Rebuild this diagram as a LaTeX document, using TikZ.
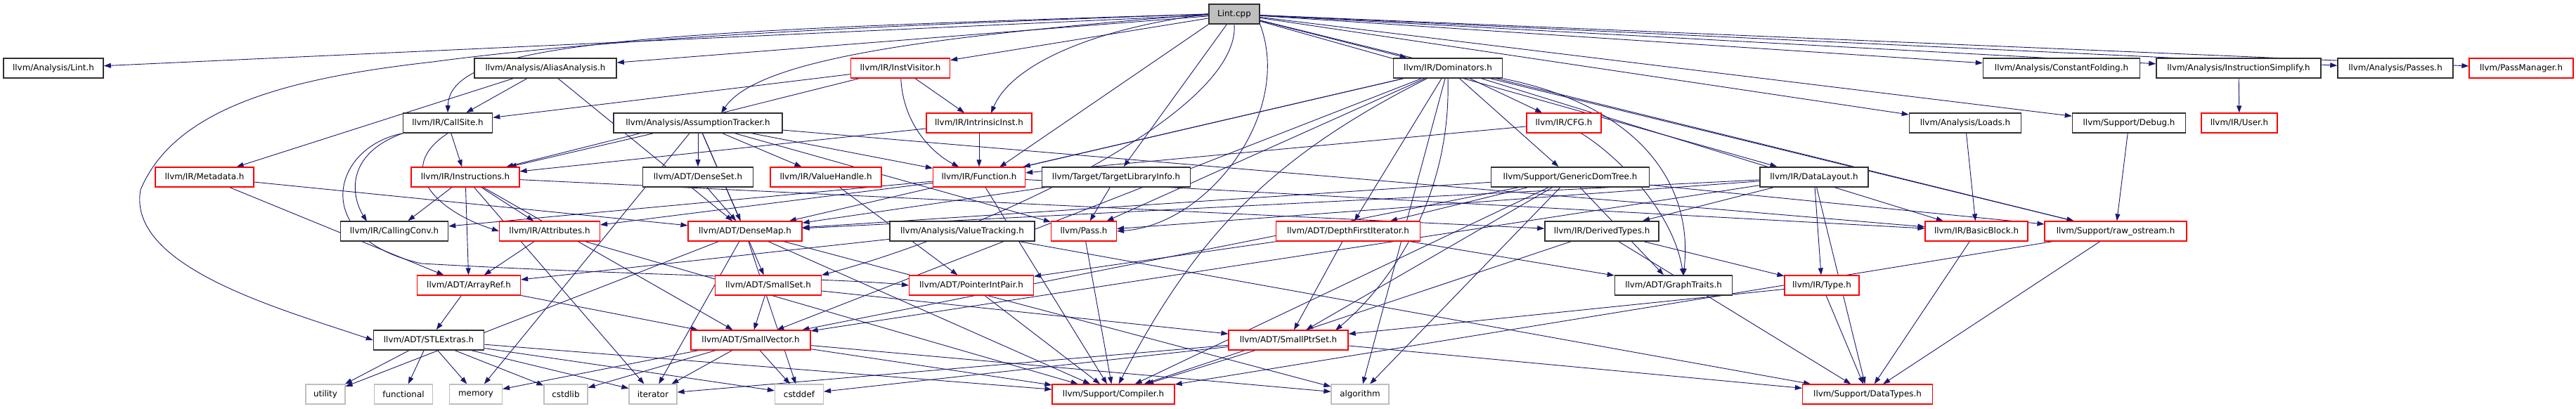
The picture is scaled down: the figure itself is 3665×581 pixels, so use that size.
\documentclass[tikz,border=0pt]{standalone}
\usepackage{fontspec}
\setmainfont{DejaVu Sans}
\usetikzlibrary{arrows.meta,backgrounds}
\definecolor{edgec}{HTML}{191970}
\definecolor{rootfill}{HTML}{BFBFBF}
\definecolor{sysc}{HTML}{BFBFBF}
\definecolor{hdrc}{HTML}{303030}
\tikzset{
 box/.style={rectangle, minimum height=28pt, inner sep=0pt, font=\fontsize{11.9}{14}\selectfont, fill=white},
 hb/.style={box, draw=hdrc, line width=1.6pt},
 rb/.style={box, draw=red, line width=1.2pt},
 sb/.style={box, draw=sysc, line width=1.2pt},
 rootb/.style={box, draw=hdrc, line width=1.6pt, fill=rootfill},
 e/.style={draw=edgec, line width=0.9pt, -{Triangle[length=10pt,width=7pt]}},
}
\begin{document}
\begin{tikzpicture}[x=1pt,y=-1pt]
\useasboundingbox (0,0) rectangle (3665,581);
% row 0
\node[rootb, minimum width=72pt] (root) at (1756,20) {Lint.cpp};
% row 1
\node[hb, minimum width=142pt] (LintH) at (76,97) {llvm/Analysis/Lint.h};
\node[hb, minimum width=202pt] (AA) at (776,97) {llvm/Analysis/AliasAnalysis.h};
\node[rb, minimum width=141pt] (IV) at (1281,97) {llvm/IR/InstVisitor.h};
\node[hb, minimum width=155pt] (Dom) at (2060,97) {llvm/IR/Dominators.h};
\node[hb, minimum width=223pt] (CF) at (2933,97) {llvm/Analysis/ConstantFolding.h};
\node[hb, minimum width=234pt] (IS) at (3185,97) {llvm/Analysis/InstructionSimplify.h};
\node[hb, minimum width=164pt] (Passes) at (3408,97) {llvm/Analysis/Passes.h};
\node[rb, minimum width=148pt] (PM) at (3587,97) {llvm/PassManager.h};
% row 2
\node[hb, minimum width=127pt] (CS) at (637,175) {llvm/IR/CallSite.h};
\node[hb, minimum width=240pt] (AT) at (993,175) {llvm/Analysis/AssumptionTracker.h};
\node[rb, minimum width=150pt] (II) at (1393,175) {llvm/IR/IntrinsicInst.h};
\node[rb, minimum width=106pt] (CFG) at (2225,175) {llvm/IR/CFG.h};
\node[hb, minimum width=159pt] (Loads) at (2796,175) {llvm/Analysis/Loads.h};
\node[hb, minimum width=161pt] (Debug) at (3029,175) {llvm/Support/Debug.h};
\node[rb, minimum width=108pt] (User) at (3186,175) {llvm/IR/User.h};
% row 3
\node[rb, minimum width=140pt] (MD) at (291,252) {llvm/IR/Metadata.h};
\node[rb, minimum width=154pt] (Ins) at (662,252) {llvm/IR/Instructions.h};
\node[hb, minimum width=157pt] (DS) at (993,252) {llvm/ADT/DenseSet.h};
\node[rb, minimum width=158pt] (VH) at (1175,252) {llvm/IR/ValueHandle.h};
\node[rb, minimum width=131pt] (Fn) at (1393,252) {llvm/IR/Function.h};
\node[hb, minimum width=211pt] (TLI) at (1588,252) {llvm/Target/TargetLibraryInfo.h};
\node[hb, minimum width=225pt] (GDT) at (2234,252) {llvm/Support/GenericDomTree.h};
\node[hb, minimum width=154pt] (DL) at (2581,252) {llvm/IR/DataLayout.h};
% row 4
\node[hb, minimum width=153pt] (CC) at (561,329) {llvm/IR/CallingConv.h};
\node[rb, minimum width=143pt] (Attr) at (782,329) {llvm/IR/Attributes.h};
\node[rb, minimum width=162pt] (DM) at (1060,329) {llvm/ADT/DenseMap.h};
\node[hb, minimum width=206pt] (VT) at (1369,329) {llvm/Analysis/ValueTracking.h};
\node[rb, minimum width=93pt] (Pass) at (1542,329) {llvm/Pass.h};
\node[rb, minimum width=205pt] (DFI) at (1918,329) {llvm/ADT/DepthFirstIterator.h};
\node[hb, minimum width=162pt] (DT) at (2279,329) {llvm/IR/DerivedTypes.h};
\node[rb, minimum width=146pt] (BB) at (2812,329) {llvm/IR/BasicBlock.h};
\node[rb, minimum width=202pt] (ROS) at (3010,329) {llvm/Support/raw\_ostream.h};
% row 5
\node[rb, minimum width=147pt] (AR) at (667,406) {llvm/ADT/ArrayRef.h};
\node[rb, minimum width=151pt] (SS) at (1093,406) {llvm/ADT/SmallSet.h};
\node[rb, minimum width=177pt] (PIP) at (1382,406) {llvm/ADT/PointerIntPair.h};
\node[hb, minimum width=167pt] (GT) at (2381,406) {llvm/ADT/GraphTraits.h};
\node[rb, minimum width=106pt] (Ty) at (2592,406) {llvm/IR/Type.h};
% row 6
\node[hb, minimum width=157pt] (STL) at (610,484) {llvm/ADT/STLExtras.h};
\node[rb, minimum width=170pt] (SV) at (1068,484) {llvm/ADT/SmallVector.h};
\node[rb, minimum width=170pt] (SPS) at (1833,484) {llvm/ADT/SmallPtrSet.h};
% row 7
\node[sb, minimum width=56pt] (util) at (463,561) {utility};
\node[sb, minimum width=83pt] (func) at (574,561) {functional};
\node[sb, minimum width=75pt] (mem) at (677,561) {memory};
\node[sb, minimum width=62pt] (cstdlib) at (805,561) {cstdlib};
\node[sb, minimum width=68pt] (iter) at (929,561) {iterator};
\node[sb, minimum width=69pt] (cstddef) at (1137,561) {cstddef};
\node[rb, minimum width=174pt] (Comp) at (1584,561) {llvm/Support/Compiler.h};
\node[sb, minimum width=82pt] (alg) at (1935,561) {algorithm};
\node[rb, minimum width=185pt] (DTy) at (2657,561) {llvm/Support/DataTypes.h};

\coordinate (fnin) at (1422,238);
\coordinate (iiin) at (1410,161);
\coordinate (atin) at (1026,161);
\coordinate (ccin) at (522,315);
\coordinate (gtin) at (2395,392);
\coordinate (spsin) at (1900,470);

\begin{scope}[on background layer]
% Lint.cpp
\draw[e] (root) -- (LintH);
\draw[e] (root) -- (AA);
\draw[e] (root.west) .. controls (900,45) and (640,60) .. (CS.north);
\draw[e] (root.west) .. controls (1300,35) and (900,50) .. (616,88) .. controls (420,110) and (250,150) .. (200,270) .. controls (180,380) and (400,440) .. (STL.west);
\draw[e] (root.south) .. controls (1765,160) and (1400,330) .. (SS.north east);
\draw[e] (root.west) .. controls (1350,50) and (1080,80) .. (atin);
\draw[e] (root) -- (CF);
\draw[e] (root) -- (IS);
\draw[e] (root) -- (Loads);
\draw[e] (root) -- (Passes);
\draw[e] (root) -- (DL);
\draw[e] (root) -- (Dom);
\draw[e] (root.south west) -- (fnin);
\draw[e] (root) -- (IV);
\draw[e] (root.west) .. controls (1560,40) and (1440,90) .. (iiin);
\draw[e] (root) -- (PM);
\draw[e] (root.south east) .. controls (1840,160) and (1720,320) .. (Pass.east);
\draw[e] (root) -- (Debug);
\draw[e] (root) -- (ROS);
\draw[e] (root) -- (TLI);
% AliasAnalysis
\draw[e] (AA) -- (CS);
\draw[e] (AA) -- (MD);
\draw[e] (AA) -- (DM);
% InstVisitor
\draw[e] (IV) -- (CS);
\draw[e] (IV) -- (Ins);
\draw[e] (IV) .. controls (1285,180) and (1330,220) .. (Fn);
\draw[e] (IV) -- (II);
% Dominators
\draw[e] (Dom) -- (DM);
\draw[e] (Dom) -- (DFI);
\draw[e] (Dom.south east) .. controls (2330,150) and (2410,260) .. (gtin);
\draw[e] (Dom.south) .. controls (2065,300) and (1960,420) .. (spsin);
\draw[e] (Dom) -- (SV);
\draw[e] (Dom) -- (BB);
\draw[e] (Dom) -- (CFG);
\draw[e] (Dom) -- (Fn);
\draw[e] (Dom) to[bend right=18] (Comp);
\draw[e] (Dom) -- (GDT);
\draw[e] (Dom) -- (ROS);
\draw[e] (Dom) -- (alg);
\draw[e] (Dom) -- (Pass);
% InstructionSimplify
\draw[e] (IS) -- (User);
% CallSite
\draw[e] (CS.south west) .. controls (470,210) and (440,340) .. (600,375) .. controls (900,392) and (1200,396) .. (PIP.west);
\draw[e] (CS.south) .. controls (560,240) and (620,300) .. (Attr.west);
\draw[e] (CS.south west) .. controls (490,220) and (500,280) .. (ccin);
\draw[e] (CS) -- (Ins);
% AssumptionTracker
\draw[e] (AT) -- (DM);
\draw[e] (AT) -- (DS);
\draw[e] (AT) -- (SS);
\draw[e] (AT) -- (BB);
\draw[e] (AT) -- (Fn);
\draw[e] (AT) -- (Ins);
\draw[e] (AT) -- (VH);
\draw[e] (AT) -- (Pass);
\draw[e] (AT) -- (mem);
% IntrinsicInst
\draw[e] (II) -- (Fn);
\draw[e] (II) -- (Ins);
% CFG
\draw[e] (CFG) -- (Fn);
\draw[e] (CFG) .. controls (2300,220) and (2380,300) .. (gtin);
% Loads, Debug
\draw[e] (Loads) -- (BB);
\draw[e] (Debug) -- (ROS);
% Metadata
\draw[e] (MD) -- (AR);
\draw[e] (MD) -- (DM);
% Instructions
\draw[e] (Ins) -- (AR);
\draw[e] (Ins) -- (SV);
\draw[e] (Ins) -- (Attr);
\draw[e] (Ins) -- (CC);
\draw[e] (Ins) -- (DT);
\draw[e] (Ins) -- (iter);
% DenseSet, ValueHandle
\draw[e] (DS) -- (DM);
\draw[e] (VH) -- (PIP);
% Function
\draw[e] (Fn) -- (Attr);
\draw[e] (Fn) -- (BB);
\draw[e] (Fn) -- (CC);
\draw[e] (Fn) -- (Comp);
% TargetLibraryInfo
\draw[e] (TLI) -- (DM);
\draw[e] (TLI) -- (Pass);
% GenericDomTree
\draw[e] (GDT) -- (DM);
\draw[e] (GDT) -- (DFI);
\draw[e] (GDT) -- (GT);
\draw[e] (GDT) -- (SPS);
\draw[e] (GDT) -- (SV);
\draw[e] (GDT) -- (Comp);
\draw[e] (GDT) -- (ROS);
\draw[e] (GDT) -- (alg);
% DataLayout
\draw[e] (DL) -- (DM);
\draw[e] (DL) -- (SV);
\draw[e] (DL) -- (DT);
\draw[e] (DL) -- (Ty);
\draw[e] (DL) -- (Pass);
\draw[e] (DL) -- (DTy);
% Attributes
\draw[e] (Attr) -- (AR);
\draw[e] (Attr) -- (Comp);
% DenseMap
\draw[e] (DM) -- (Comp);
\draw[e] (DM) -- (alg);
\draw[e] (DM) -- (cstddef);
\draw[e] (DM) -- (iter);
\draw[e] (DM) -- (util);
% ValueTracking, Pass
\draw[e] (VT) -- (AR);
\draw[e] (VT) -- (DTy);
\draw[e] (Pass) -- (Comp);
% DepthFirstIterator
\draw[e] (DFI) -- (GT);
\draw[e] (DFI) -- (PIP);
\draw[e] (DFI) -- (SPS);
% DerivedTypes
\draw[e] (DT) -- (Ty);
\draw[e] (DT) -- (Comp);
\draw[e] (DT) -- (DTy);
% BasicBlock, raw_ostream
\draw[e] (BB) -- (DTy);
\draw[e] (ROS) -- (Comp);
\draw[e] (ROS) -- (DTy);
% ArrayRef, SmallSet, PointerIntPair, Type
\draw[e] (AR) -- (STL);
\draw[e] (AR) -- (SV);
\draw[e] (SS) -- (SPS);
\draw[e] (SS) -- (SV);
\draw[e] (PIP) -- (Comp);
\draw[e] (Ty) -- (SPS);
\draw[e] (Ty) -- (DTy);
% STLExtras
\draw[e] (STL) -- (util);
\draw[e] (STL) -- (func);
\draw[e] (STL) -- (mem);
\draw[e] (STL) -- (cstdlib);
\draw[e] (STL) -- (iter);
\draw[e] (STL) -- (cstddef);
\draw[e] (STL) -- (Comp);
% SmallVector
\draw[e] (SV) -- (Comp);
\draw[e] (SV) -- (alg);
\draw[e] (SV) -- (cstddef);
\draw[e] (SV) -- (cstdlib);
\draw[e] (SV) -- (iter);
\draw[e] (SV) -- (mem);
% SmallPtrSet
\draw[e] (SPS) -- (Comp);
\draw[e] (SPS) -- (DTy);
\draw[e] (SPS) -- (cstddef);
\draw[e] (SPS) -- (iter);
\end{scope}
\end{tikzpicture}
\end{document}
